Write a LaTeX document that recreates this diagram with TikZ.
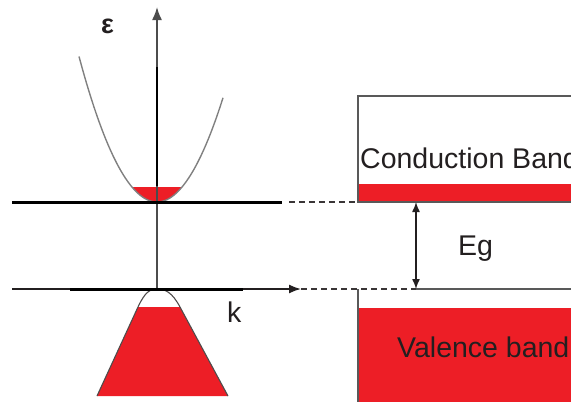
\documentclass[tikz,border=0pt]{standalone}
\usepackage{fontspec}
\setmainfont{Liberation Sans}
\usetikzlibrary{arrows.meta}
\definecolor{bandred}{RGB}{237,30,38}
\definecolor{inkgray}{RGB}{35,31,32}
\tikzset{
  lbl/.style={inner sep=0pt, anchor=base west, text=inkgray, font=\fontsize{28.5}{28.5}\selectfont},
  gapdash/.style={line width=1.6pt, inkgray!90, dash pattern=on 6pt off 4pt},
  boxline/.style={line width=1.3pt, gray!70!black},
}
\begin{document}
\begin{tikzpicture}[x=1pt, y=-1pt]
    \useasboundingbox (0,0) rectangle (571,402);
    \clip (0,0) rectangle (571,402);
    % Coordinate
    \coordinate (O) at (157,289);
    \coordinate (Etop) at (157,7);
    \coordinate (Cl) at (12,202);
    \coordinate (Cr) at (282,202);
    \coordinate (Kl) at (12,289);
    \coordinate (Kr) at (301,289);
    \coordinate (Cdash) at (289,202);
    \coordinate (Cbox) at (358,202);
    \coordinate (Gtop) at (416,202);
    \coordinate (Gbot) at (416,289);
    % Conduction band (right)
    \fill[bandred] (358,184) rectangle (600,202);
    \draw[boxline] (358,96) rectangle (600,202);
    \node[lbl] (cb) at (360,168) {Conduction Band};
    % Valence band (right)
    \fill[bandred] (358,308) rectangle (600,410);
    \draw[boxline] (358,410) -- (358,289);
    \draw[boxline] (Gbot) -- (600,289);
    \node[lbl] (vb) at (397,357) {Valence band};
    % Parabola (conduction)
    \fill[bandred] plot[domain=-25:25, samples=30] ({157+\x},{202-124*(\x/72)^2}) -- cycle;
    \draw[gray, line width=1.4pt] plot[domain=-78:66, samples=60] ({157+\x},{202-124*(\x/72)^2});
    % Valence cone
    \fill[bandred] (138,307) -- (180,307) -- (228,396) -- (97,396) -- cycle;
    \draw[inkgray!80, line width=1.1pt] (97,396) -- (138,307) .. controls (145,292) and (150,289) .. (157,289)
        .. controls (165,289) and (172,292) .. (180,307) -- (228,396);
    % Axes
    \draw[-{Latex[length=13pt,width=10pt]}, gray!60!black, line width=1.7pt] (O) -- (Etop);
    \draw[black, line width=2.4pt] (157,67) -- (157,186);
    \draw[-{Latex[length=12pt,width=9pt]}, inkgray, line width=1.6pt] (Kl) -- (Kr);
    \draw[black, line width=3pt] (70,289) -- (243,289);
    \draw[black, line width=3pt] (Cl) -- (Cr);
    % Linee tratteggiate
    \draw[gapdash] (Cdash) -- (Cbox);
    \draw[gapdash] (Kr) -- (Gbot);
    \draw[{Latex[length=10pt,width=8pt]}-{Latex[length=10pt,width=8pt]}, inkgray, line width=1.4pt] (Gtop) -- (Gbot);
    % Labels
    \node[lbl] (eg) at (458,255) {Eg};
    \node[lbl] (k) at (227,322) {k};
    \node[lbl, font=\fontsize{27}{27}\bfseries] (eps) at (101,33) {ε};
\end{tikzpicture}
\end{document}
